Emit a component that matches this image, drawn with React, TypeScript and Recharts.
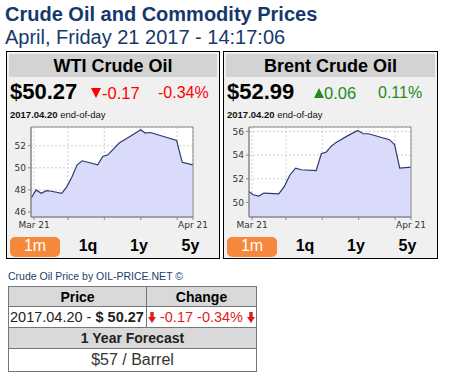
import React from 'react';
import {
  AreaChart,
  Area,
  XAxis,
  YAxis,
  CartesianGrid,
  ReferenceArea,
} from 'recharts';

// days counted from the left edge of the 1m window (Mar 20 .. Apr 20)
const wtiDays = [0, 1, 2, 3, 4, 6, 7, 8, 9, 10, 13, 14, 15, 17.2, 19.3, 21.4, 22.3, 23.3, 28.4, 29.5, 31.6];
const wtiPrices = [47.25, 48.0, 47.7, 47.94, 47.88, 47.7, 48.3, 49.2, 50.27, 50.64, 50.27, 51.03, 51.18, 52.25, 52.85, 53.45, 53.15, 53.2, 52.48, 50.5, 50.27];

const brentDays = [0, 0.8, 1.9, 2.9, 5.8, 6.9, 8, 9.1, 10.2, 13.1, 14.1, 15.1, 16, 17, 19.3, 21.2, 22.3, 23.3, 27.4, 28.4, 29.4, 31.6];
const brentPrices = [50.93, 50.65, 50.54, 50.79, 50.73, 51.35, 52.34, 52.9, 52.76, 52.68, 54.11, 54.26, 54.73, 55.07, 55.64, 56.08, 55.8, 55.8, 55.3, 54.88, 52.9, 52.98];

const xDomain = [0, 31.6];
const xTickDays = [0.6, 7.2, 14.3, 21.4, 28.5, 31.6];
const xTickLabels = ['Mar 21', '', '', '', '', 'Apr 21'];

const wtiDomain = [45.55, 53.7];
const wtiYTicks = [46, 48, 50, 52];
const brentDomain = [48.77, 56.37];
const brentYTicks = [50, 52, 54, 56];

const buttons = ['1m', '1q', '1y', '5y'];

const wtiData = wtiDays.map((day, i) => ({ day, price: wtiPrices[i] }));
const brentData = brentDays.map((day, i) => ({ day, price: brentPrices[i] }));

const SANS = '"Liberation Sans", Arial, sans-serif';
const NAVY = '#15396b';
const RED = '#ff0000';
const GREEN = '#228b22';

// absolutely placed text, positioned by its baseline
const Txt = ({ x, base, size, bold, color, center, children }: any) => (
  <div
    style={{
      position: 'absolute',
      left: x,
      top: base - 0.8465 * size,
      fontSize: size,
      lineHeight: `${size}px`,
      fontWeight: bold ? 'bold' : 'normal',
      color: color || '#000',
      whiteSpace: 'nowrap',
      transform: center ? 'translateX(-50%)' : undefined,
      fontFamily: SANS,
    }}
  >
    {children}
  </div>
);

const Triangle = ({ x, y, up, color }: any) => (
  <svg width={10} height={10} style={{ position: 'absolute', left: x, top: y }}>
    <polygon points={up ? '5,0 10,10 0,10' : '0,0 10,0 5,10'} fill={color} />
  </svg>
);

const DownArrow = () => (
  <svg width={8} height={11} style={{ display: 'inline-block', verticalAlign: '-1px' }}>
    <rect x={2.3} y={0} width={3.4} height={5.5} fill="#e01b1b" />
    <polygon points="0,5 8,5 4,11" fill="#e01b1b" />
  </svg>
);

function MiniChart({ data, domain, yTicks, yAxisWidth, width }: any) {
  const tickStyle = { fontSize: 9, fill: '#333', fontFamily: '"DejaVu Sans", sans-serif' };
  return (
    <AreaChart
      width={width}
      height={115}
      data={data}
      margin={{ top: 7, right: width - yAxisWidth - 162, bottom: 0, left: 0 }}
    >
      <CartesianGrid fill="#ffffff" stroke="#cdcdcd" strokeDasharray="2 2" />
      <XAxis
        type="number"
        dataKey="day"
        domain={xDomain}
        ticks={xTickDays}
        interval={0}
        height={18}
        tickSize={3}
        stroke="#8a8a8a"
        tick={tickStyle}
        tickFormatter={(v: number) => xTickLabels[xTickDays.indexOf(v)] ?? ''}
      />
      <YAxis
        type="number"
        domain={domain}
        ticks={yTicks}
        interval={0}
        width={yAxisWidth}
        tickSize={3}
        stroke="#8a8a8a"
        tick={tickStyle}
        allowDataOverflow
      />
      <Area
        type="linear"
        dataKey="price"
        stroke="#2a3a6c"
        strokeWidth={1.2}
        fill="#dadafa"
        fillOpacity={1}
        dot={false}
        activeDot={false}
        isAnimationActive={false}
      />
      <ReferenceArea
        x1={xDomain[0]}
        x2={xDomain[1]}
        y1={domain[0]}
        y2={domain[1]}
        fill="none"
        stroke="#8a8a8a"
        ifOverflow="visible"
      />
    </AreaChart>
  );
}

function Panel(p: any) {
  const col = p.up ? GREEN : RED;
  const btnX = [29, 82, 133, 184.5];
  return (
    <div style={{ position: 'absolute', left: p.left, top: 51, width: p.width, height: 208, background: '#f0f0f0' }}>
      <div style={{ position: 'absolute', inset: 0, border: '1px solid #000', boxSizing: 'border-box' }} />
      <div
        style={{
          position: 'absolute', left: 3, top: 3, width: p.width - 6, height: 23,
          background: '#d3d3d3',
        }}
      />
      <Txt x={p.width / 2} base={21} size={18} bold center>{p.name}</Txt>
      <Txt x={4} base={49} size={22} bold>{p.price}</Txt>
      <Triangle x={p.arrowX} y={36.5} up={p.up} color={col} />
      <Txt x={p.changeX} base={47.5} size={16.5} color={col}>{p.change}</Txt>
      <Txt x={p.pctX} base={47.5} size={16} color={col}>{p.pct}</Txt>
      <Txt x={4} base={67.5} size={9.5} color="#111">
        <b>{p.date}</b> end-of-day
      </Txt>
      <div style={{ position: 'absolute', left: 0, top: 69 }}>
        <MiniChart data={p.data} domain={p.domain} yTicks={p.yTicks} yAxisWidth={p.yAxisWidth} width={p.width} />
      </div>
      <div style={{ position: 'absolute', left: 4, top: 186, width: 50, height: 20, borderRadius: 5, background: '#f5883a' }} />
      {buttons.map((b, i) => (
        <Txt key={b} x={btnX[i]} base={201} size={16} bold={i > 0} color={i === 0 ? '#fff' : '#000'} center>
          {b}
        </Txt>
      ))}
    </div>
  );
}

export default function App() {
  const cell: React.CSSProperties = {
    position: 'absolute', display: 'flex', alignItems: 'center', justifyContent: 'center',
    fontFamily: SANS, whiteSpace: 'nowrap', boxSizing: 'border-box',
  };
  return (
    <div style={{ position: 'absolute', left: 0, top: 0, width: 461, height: 378, background: '#fff', overflow: 'hidden', fontFamily: SANS }}>
      <Txt x={5} base={21} size={20} bold color={NAVY}>Crude Oil and Commodity Prices</Txt>
      <Txt x={5} base={44} size={20} color={NAVY}>April, Friday 21 2017 - 14:17:06</Txt>

      <Panel
        name="WTI Crude Oil" left={6} width={214} price="$50.27" change="-0.17" pct="-0.34%" up={false}
        date="2017.04.20" data={wtiData} domain={wtiDomain} yTicks={wtiYTicks} yAxisWidth={25}
        arrowX={84.5} changeX={96} pctX={152}
      />
      <Panel
        name="Brent Crude Oil" left={223} width={215} price="$52.99" change="0.06" pct="0.11%" up
        date="2017.04.20" data={brentData} domain={brentDomain} yTicks={brentYTicks} yAxisWidth={26}
        arrowX={90.5} changeX={101} pctX={155}
      />

      <Txt x={8} base={280} size={10.5} color="#1a3d6d">Crude Oil Price by OIL-PRICE.NET ©</Txt>

      <div style={{ position: 'absolute', left: 8, top: 286, width: 249, height: 86, border: '1px solid #777', boxSizing: 'border-box', background: '#fff' }}>
        <div style={{ ...cell, left: 0, top: 0, width: 138, height: 20, background: '#d9d9d9', borderRight: '1px solid #777', borderBottom: '1px solid #777', fontWeight: 'bold', fontSize: 14 }}>Price</div>
        <div style={{ ...cell, left: 138, top: 0, width: 109, height: 20, background: '#d9d9d9', borderBottom: '1px solid #777', fontWeight: 'bold', fontSize: 14 }}>Change</div>
        <div style={{ ...cell, left: 0, top: 20, width: 138, height: 21, justifyContent: 'flex-start', paddingLeft: 1, borderRight: '1px solid #777', borderBottom: '1px solid #777', fontSize: 14.5, color: '#222' }}>
          2017.04.20 -&nbsp;<b>$ 50.27</b>
        </div>
        <div style={{ ...cell, left: 138, top: 20, width: 109, height: 21, borderBottom: '1px solid #777', fontSize: 14.5, color: '#e01b1b' }}>
          <DownArrow />&nbsp;-0.17 -0.34%&nbsp;<DownArrow />
        </div>
        <div style={{ ...cell, left: 0, top: 41, width: 247, height: 21, background: '#d9d9d9', borderBottom: '1px solid #777', fontWeight: 'bold', fontSize: 14, color: '#222' }}>1 Year Forecast</div>
        <div style={{ ...cell, left: 0, top: 62, width: 247, height: 22, fontSize: 16, color: '#333' }}>$57 / Barrel</div>
      </div>
    </div>
  );
}
